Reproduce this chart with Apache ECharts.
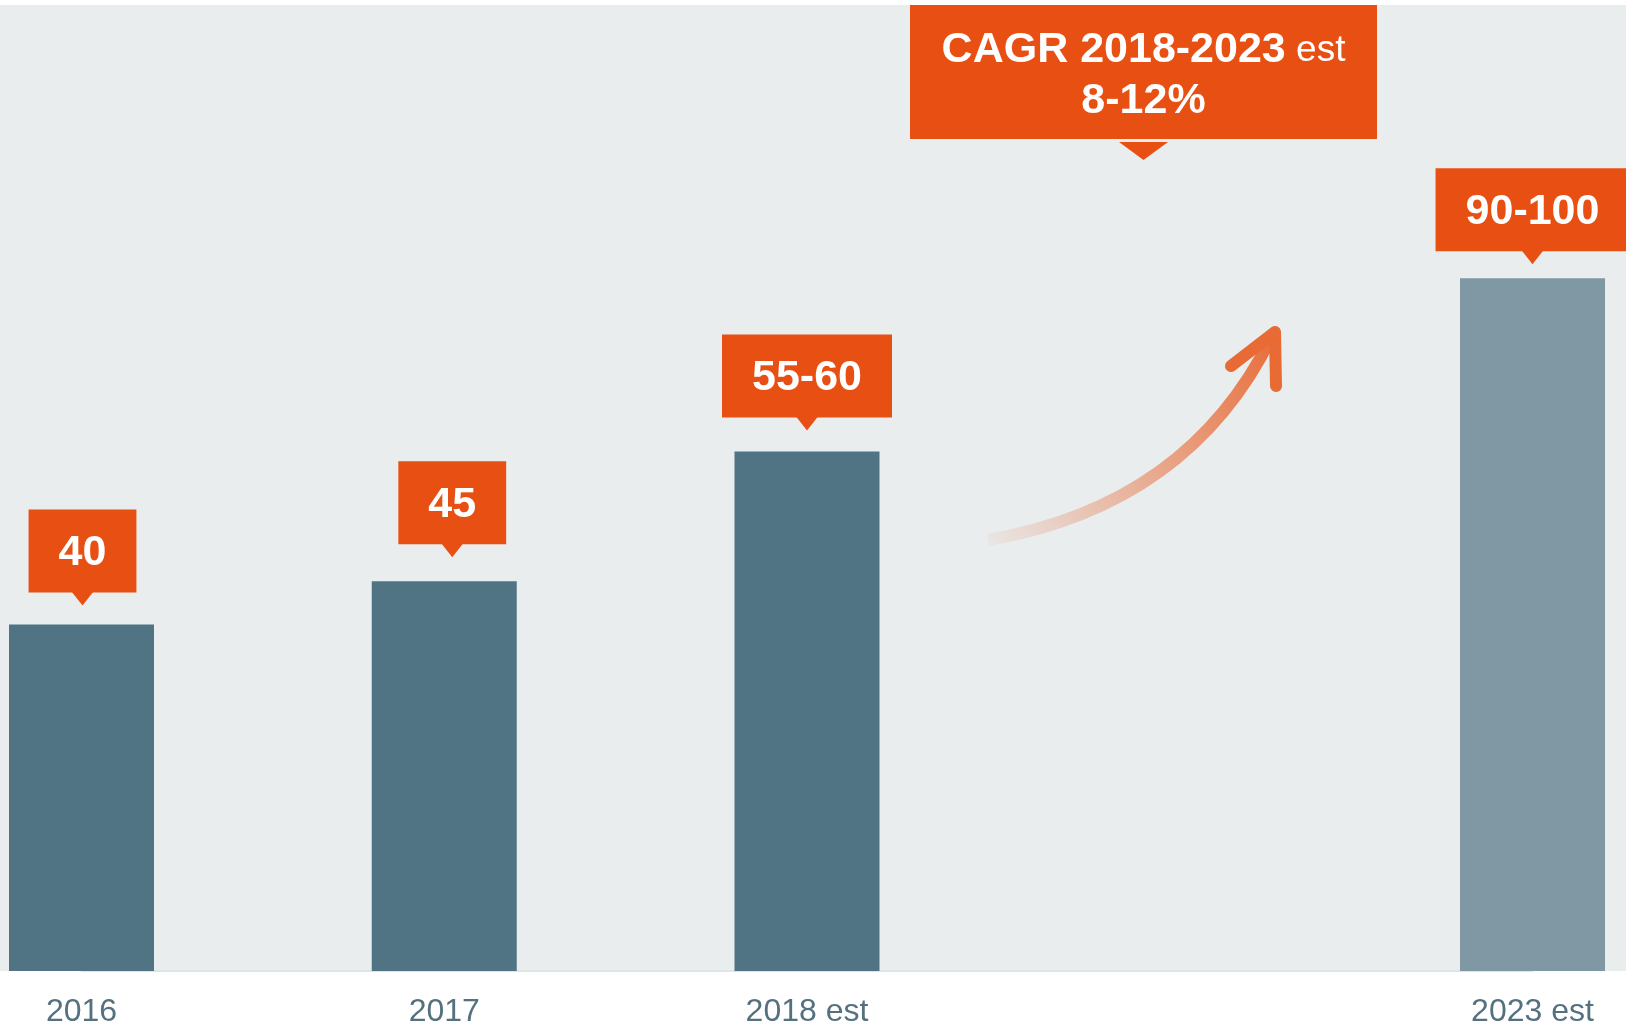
<!DOCTYPE html>
<html>
<head>
<meta charset="utf-8">
<script src="https://cdn.jsdelivr.net/npm/echarts@6/dist/echarts.min.js"></script>
<style>
  html, body { margin: 0; padding: 0; background: #ffffff; }
  #main { width: 1626px; height: 1030px; }
</style>
</head>
<body>
<div id="main"></div>
<script>
// data
var years = ['2016', '2017', '2018 est', '', '2023 est'];
var values = [40, 45, 60, '-', 80];
var valueLabels = ['40', '45', '55-60', '', '90-100'];
var cagrTitle = 'CAGR 2018-2023';
var cagrNote = 'est';
var cagrRange = '8-12%';

// styling
var barColors = ['#517485', '#517485', '#517485', '#517485', '#8097a4'];
var labelGap = [32, 37, 34, 32, 27];     // label box bottom above bar top
var labelShiftX = [1, 8, 0, 0, 0];
var orange = '#e84f12';
var font = 'Liberation Sans, Arial, sans-serif';

var chart = echarts.init(document.getElementById('main'), null, { renderer: 'canvas' });

var barData = values.map(function (v, i) {
  return {
    value: v,
    itemStyle: { color: barColors[i] },
    label: { distance: labelGap[i], offset: [labelShiftX[i], 0] }
  };
});
var pointerData = values.map(function (v, i) {
  return { value: v, symbolOffset: [labelShiftX[i], -(labelGap[i] - 6)] };
});

var option = {
  animation: false,
  grid: {
    left: 81.5,
    right: 93.5,
    top: 105,
    bottom: 59,
    containLabel: false,
    outerBoundsMode: 'none'
  },
  xAxis: {
    type: 'category',
    data: years,
    boundaryGap: false,
    axisTick: { show: false },
    axisLine: {
      lineStyle: { color: '#dce5e8', width: 2 }
    },
    axisLabel: {
      color: '#557180',
      fontFamily: font,
      fontSize: 32,
      margin: 25
    }
  },
  yAxis: {
    type: 'value',
    min: 0,
    max: 100,
    show: false
  },
  graphic: [
    // grey plot background
    {
      type: 'rect',
      z: -10,
      silent: true,
      shape: { x: 0, y: 5, width: 1626, height: 966 },
      style: { fill: '#e9edee' }
    },
    // CAGR box
    {
      type: 'rect',
      z: 100,
      shape: { x: 910, y: 5, width: 467, height: 134 },
      style: { fill: orange }
    },
    {
      type: 'polygon',
      z: 100,
      shape: { points: [[1119, 142], [1168, 142], [1143.5, 160]] },
      style: { fill: orange }
    },
    {
      type: 'text',
      z: 101,
      style: {
        x: 1143.5,
        y: 76,
        align: 'center',
        verticalAlign: 'middle',
        text: '{b|' + cagrTitle + '}{r| ' + cagrNote + '}\n{b|' + cagrRange + '}',
        rich: {
          b: { fontFamily: font, fontWeight: 'bold', fontSize: 43, lineHeight: 51, fill: '#ffffff' },
          r: { fontFamily: font, fontSize: 37, lineHeight: 51, fill: '#ffffff' }
        }
      }
    },
    // growth arrow
    {
      type: 'bezierCurve',
      z: 100,
      shape: { x1: 988, y1: 540, cpx1: 1189, cpy1: 505, x2: 1272, y2: 336 },
      style: {
        fill: 'none',
        lineWidth: 12,
        lineCap: 'butt',
        stroke: {
          type: 'linear',
          x: 988, y: 540, x2: 1276, y2: 330,
          global: true,
          colorStops: [
            { offset: 0, color: 'rgba(232,110,60,0.06)' },
            { offset: 0.5, color: 'rgba(232,110,60,0.55)' },
            { offset: 1, color: 'rgba(232,100,45,0.95)' }
          ]
        }
      }
    },
    {
      type: 'polyline',
      z: 100,
      shape: { points: [[1231, 366], [1275, 332], [1276, 386]] },
      style: {
        fill: 'none',
        stroke: '#e86a35',
        lineWidth: 12,
        lineCap: 'round',
        lineJoin: 'round'
      }
    }
  ],
  series: [
    {
      type: 'bar',
      data: barData,
      barWidth: 145,
      clip: false,
      label: {
        show: true,
        position: 'top',
        formatter: function (p) { return valueLabels[p.dataIndex]; },
        color: '#ffffff',
        fontFamily: font,
        fontWeight: 'bold',
        fontSize: 43,
        lineHeight: 43,
        backgroundColor: orange,
        padding: [22, 30, 18, 30]
      }
    },
    {
      // little pointer under each label box
      type: 'scatter',
      data: pointerData,
      clip: false,
      symbol: 'path://M0,0 L22,0 L11,14 Z',
      symbolSize: [22, 14],
      itemStyle: { color: orange, opacity: 1 },
      silent: true,
      z: 3
    }
  ]
};

chart.setOption(option);
</script>
</body>
</html>
